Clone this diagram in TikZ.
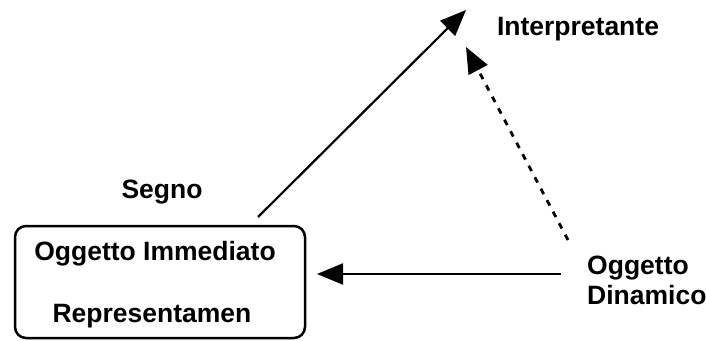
\documentclass[tikz,border=0pt]{standalone}
\usepackage{fontspec}
\setmainfont{Liberation Sans}
\usetikzlibrary{arrows.meta}
\begin{document}
\begin{tikzpicture}[x=1pt,y=-1pt,
  lbl/.style={font=\fontsize{26.5}{30}\selectfont\bfseries, inner sep=0pt},
  conn/.style={line width=2.2pt, -{Triangle[length=26pt,width=21pt]}},
  dconn/.style={conn, line width=2.8pt, dash pattern=on 6pt off 7pt}]
\useasboundingbox (0,0) rectangle (706,340);
\node[draw, line width=2.5pt, rounded corners=11pt, minimum width=290pt, minimum height=112pt, inner sep=0pt] (box) at (160,282) {};
\node[lbl] (oi) at (155,254) {Oggetto Immediato};
\node[lbl] (rep) at (152,316) {Representamen};
\node[lbl] (segno) at (162,192) {Segno};
\node[lbl] (interp) at (578,29) {Interpretante};
\node[lbl, align=left, anchor=west, font=\fontsize{26.5}{30}\selectfont\bfseries] (od) at (587,280) {Oggetto\\Dinamico};
\coordinate (s1) at (258,217);
\coordinate (t1) at (466,10);
\coordinate (s2) at (568,240);
\coordinate (t2) at (466,47);
\coordinate (s3) at (561,274);
\coordinate (t3) at (317,274);
\draw[conn] (s1) -- (t1);
\draw[dconn] (s2) -- (t2);
\draw[conn] (s3) -- (t3);
\end{tikzpicture}
\end{document}
